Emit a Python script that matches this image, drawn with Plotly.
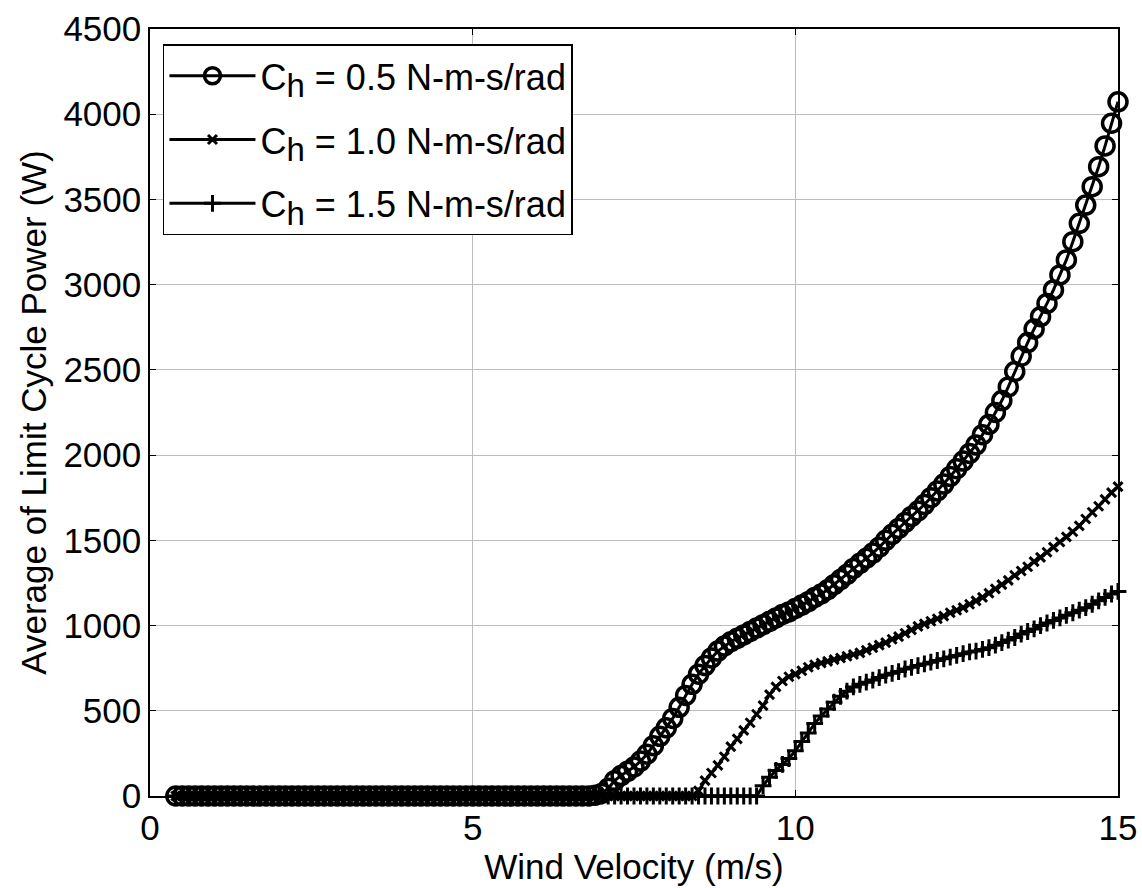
import plotly.graph_objects as go

# Wind velocity samples (m/s)
wind_velocity = [
    0.4, 0.5, 0.6, 0.7, 0.8, 0.9, 1.0, 1.1, 1.2, 1.3, 1.4, 1.5, 1.6, 1.7, 1.8, 1.9,
    2.0, 2.1, 2.2, 2.3, 2.4, 2.5, 2.6, 2.7, 2.8, 2.9, 3.0, 3.1, 3.2, 3.3, 3.4, 3.5,
    3.6, 3.7, 3.8, 3.9, 4.0, 4.1, 4.2, 4.3, 4.4, 4.5, 4.6, 4.7, 4.8, 4.9, 5.0, 5.1,
    5.2, 5.3, 5.4, 5.5, 5.6, 5.7, 5.8, 5.9, 6.0, 6.1, 6.2, 6.3, 6.4, 6.5, 6.6, 6.7,
    6.8, 6.9, 7.0, 7.1, 7.2, 7.3, 7.4, 7.5, 7.6, 7.7, 7.8, 7.9, 8.0, 8.1, 8.2, 8.3,
    8.4, 8.5, 8.6, 8.7, 8.8, 8.9, 9.0, 9.1, 9.2, 9.3, 9.4, 9.5, 9.6, 9.7, 9.8, 9.9,
    10.0, 10.1, 10.2, 10.3, 10.4, 10.5, 10.6, 10.7, 10.8, 10.9, 11.0, 11.1, 11.2,
    11.3, 11.4, 11.5, 11.6, 11.7, 11.8, 11.9, 12.0, 12.1, 12.2, 12.3, 12.4, 12.5,
    12.6, 12.7, 12.8, 12.9, 13.0, 13.1, 13.2, 13.3, 13.4, 13.5, 13.6, 13.7, 13.8,
    13.9, 14.0, 14.1, 14.2, 14.3, 14.4, 14.5, 14.6, 14.7, 14.8, 14.9, 15.0,
]

# Average limit cycle power (W), C_h = 0.5 N-m-s/rad
power_ch05 = [
    0, 0, 0, 0, 0, 0, 0, 0, 0, 0, 0, 0, 0, 0, 0, 0,
    0, 0, 0, 0, 0, 0, 0, 0, 0, 0, 0, 0, 0, 0, 0, 0,
    0, 0, 0, 0, 0, 0, 0, 0, 0, 0, 0, 0, 0, 0, 0, 0,
    0, 0, 0, 0, 0, 0, 0, 0, 0, 0, 0, 0, 0, 0, 0, 0,
    0, 5, 15, 45, 90, 120, 145, 170, 205, 245, 295, 350, 400, 455, 520, 590,
    655, 715, 765, 810, 850, 880, 905, 925, 945, 965, 985, 1005, 1025, 1045, 1065, 1080,
    1100, 1120, 1140, 1165, 1185, 1210, 1240, 1270, 1300, 1335, 1365, 1395, 1425,
    1460, 1500, 1535, 1570, 1605, 1640, 1672, 1710, 1750, 1790, 1830, 1875, 1920,
    1965, 2010, 2060, 2120, 2180, 2250, 2320, 2400, 2490, 2580, 2660, 2740, 2812,
    2890, 2969, 3057, 3145, 3252, 3360, 3467, 3575, 3692, 3814, 3947, 4073,
]

# Average limit cycle power (W), C_h = 1.0 N-m-s/rad
power_ch10 = [
    0, 0, 0, 0, 0, 0, 0, 0, 0, 0, 0, 0, 0, 0, 0, 0,
    0, 0, 0, 0, 0, 0, 0, 0, 0, 0, 0, 0, 0, 0, 0, 0,
    0, 0, 0, 0, 0, 0, 0, 0, 0, 0, 0, 0, 0, 0, 0, 0,
    0, 0, 0, 0, 0, 0, 0, 0, 0, 0, 0, 0, 0, 0, 0, 0,
    0, 0, 0, 0, 0, 0, 0, 0, 0, 0, 0, 0, 0, 0, 0, 0,
    0, 30, 90, 135, 180, 230, 290, 335, 385, 430, 480, 530, 595, 640, 675, 700,
    715, 735, 755, 770, 780, 790, 800, 810, 820, 830, 840, 855, 870,
    885, 900, 920, 935, 955, 975, 995, 1010, 1025, 1040, 1055, 1075, 1090,
    1105, 1125, 1145, 1165, 1190, 1215, 1240, 1265, 1295, 1320, 1345, 1375, 1400,
    1430, 1460, 1490, 1520, 1550, 1585, 1625, 1665, 1700, 1740, 1780, 1815,
]

# Average limit cycle power (W), C_h = 1.5 N-m-s/rad
power_ch15 = [
    0, 0, 0, 0, 0, 0, 0, 0, 0, 0, 0, 0, 0, 0, 0, 0,
    0, 0, 0, 0, 0, 0, 0, 0, 0, 0, 0, 0, 0, 0, 0, 0,
    0, 0, 0, 0, 0, 0, 0, 0, 0, 0, 0, 0, 0, 0, 0, 0,
    0, 0, 0, 0, 0, 0, 0, 0, 0, 0, 0, 0, 0, 0, 0, 0,
    0, 0, 0, 0, 0, 0, 0, 0, 0, 0, 0, 0, 0, 0, 0, 0,
    0, 0, 0, 0, 0, 0, 0, 0, 0, 0, 0, 60, 110, 150, 185, 220,
    265, 320, 370, 425, 470, 510, 550, 585, 615, 640, 655, 668, 680,
    695, 710, 720, 730, 745, 755, 765, 775, 785, 795, 805, 815, 825,
    835, 845, 850, 860, 870, 885, 900, 915, 930, 950, 965, 980, 1000,
    1015, 1030, 1045, 1060, 1075, 1090, 1105, 1125, 1145, 1165, 1185, 1200,
]

SUB_H = "C<sub><span style='font-size:33px'>h</span></sub>"
series_names = [
    SUB_H + " = 0.5 N-m-s/rad",
    SUB_H + " = 1.0 N-m-s/rad",
    SUB_H + " = 1.5 N-m-s/rad",
]
x_title = "Wind Velocity (m/s)"
y_title = "Average of Limit Cycle Power (W)"
x_ticks = [0, 5, 10, 15]
y_ticks = [0, 500, 1000, 1500, 2000, 2500, 3000, 3500, 4000, 4500]

FONT = "Arial, Liberation Sans, sans-serif"
FS = 35

fig = go.Figure()
fig.add_trace(go.Scatter(
    x=wind_velocity, y=power_ch05, name=series_names[0], mode="lines+markers",
    legendgroup="a",
    line=dict(color="black", width=3),
    marker=dict(symbol="circle-open", size=18, color="black", line=dict(width=3.5, color="black")),
    cliponaxis=False,
))
fig.add_trace(go.Scatter(
    x=wind_velocity, y=power_ch10, name=series_names[1], mode="lines+markers",
    legendgroup="b",
    line=dict(color="black", width=3),
    marker=dict(symbol="x-thin-open", size=9, color="black", line=dict(width=3, color="black")),
    cliponaxis=False,
))
fig.add_trace(go.Scatter(
    x=wind_velocity, y=power_ch15, name=series_names[2], mode="lines+markers",
    legendgroup="c",
    line=dict(color="black", width=3),
    marker=dict(symbol="cross-thin-open", size=12, color="black", line=dict(width=3, color="black")),
    cliponaxis=False,
))

axis_common = dict(
    showline=True, linecolor="black", linewidth=1.5, mirror="ticks",
    ticks="inside", ticklen=6, tickwidth=1, tickcolor="black",
    showgrid=True, gridcolor="#bdbdbd", gridwidth=1, zeroline=False,
    tickfont=dict(family=FONT, size=FS, color="black"),
    automargin=False, ticklabeloverflow="allow",
)

fig.update_xaxes(
    range=[0, 15], tickvals=x_ticks, ticktext=[str(v) for v in x_ticks],
    title=dict(text=x_title, font=dict(family=FONT, size=FS, color="black"), standoff=0),
    **axis_common,
)
fig.update_yaxes(
    range=[0, 4500], tickvals=y_ticks, ticktext=[str(v) for v in y_ticks],
    title=dict(text=y_title, font=dict(family=FONT, size=FS, color="black"), standoff=6),
    **axis_common,
)

fig.update_layout(
    width=1142, height=888,
    margin=dict(l=150, r=24, t=29, b=92),
    paper_bgcolor="white", plot_bgcolor="white",
    font=dict(family=FONT, size=FS, color="black"),
    showlegend=True,
    legend=dict(
        x=0.0134, y=0.98, xanchor="left", yanchor="top",
        bordercolor="black", borderwidth=1.5, bgcolor="white",
        font=dict(family=FONT, size=36, color="black"),
        itemwidth=86, tracegroupgap=14,
    ),
)

# Remove the default 8px page margin so the 1142x888 figure fills the window.
fig.write_html(
    "out.html",
    config={"displayModeBar": False},
    post_script="document.body.style.margin='0px';",
)
